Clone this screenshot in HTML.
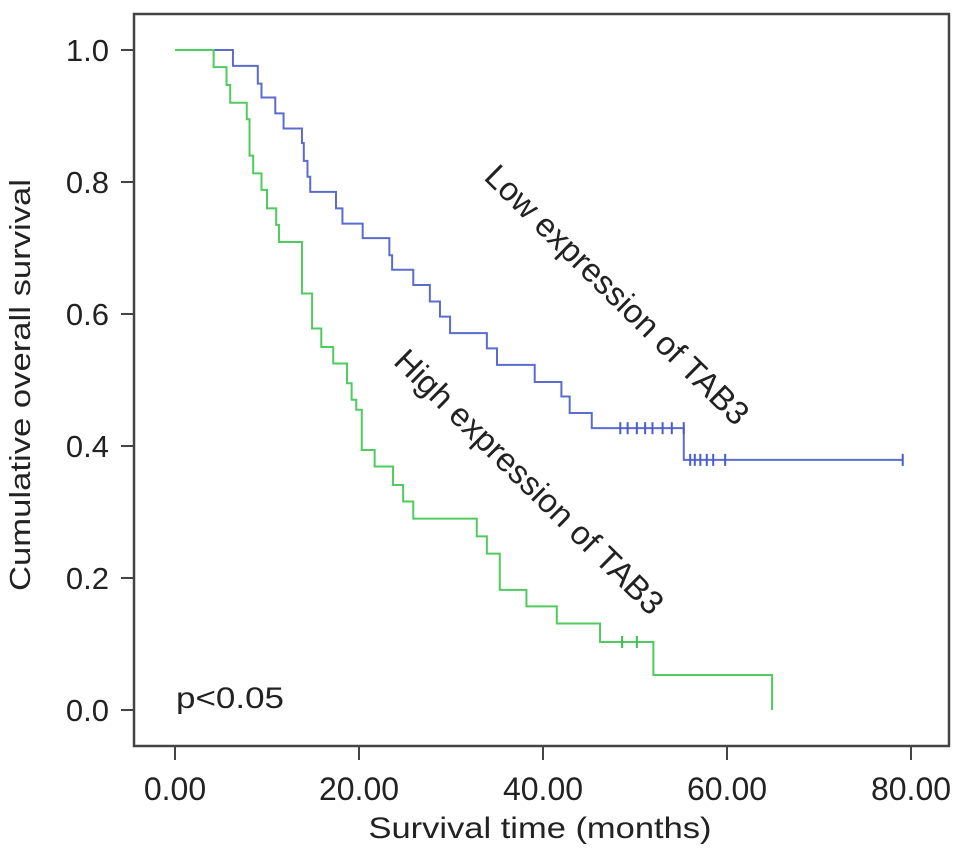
<!DOCTYPE html>
<html><head><meta charset="utf-8"><style>
body{margin:0;background:#fff;}
svg text{font-family:"Liberation Sans",sans-serif;fill:#222;}
</style></head><body>
<svg id="chart" width="969" height="857" viewBox="0 0 969 857">
<rect x="134" y="14" width="815" height="732" fill="none" stroke="#444" stroke-width="2.5"/>
<g id="yaxis"></g>
<g id="xaxis"></g>
<g id="series"></g>
<text x="30" y="385" font-size="29" text-anchor="middle" transform="rotate(-90 30 385)" textLength="412" lengthAdjust="spacingAndGlyphs">Cumulative overall survival</text>
<text x="540" y="838" font-size="30" text-anchor="middle" textLength="343" lengthAdjust="spacingAndGlyphs">Survival time (months)</text>
<text x="176" y="708" font-size="30" textLength="108" lengthAdjust="spacingAndGlyphs">p&lt;0.05</text>
<text x="617" y="306" font-size="33" text-anchor="middle" transform="rotate(44.5 617 295)">Low expression of TAB3</text>
<text x="529" y="493" font-size="33" text-anchor="middle" transform="rotate(44.5 529 482)">High expression of TAB3</text>
</svg>
<script>
const yTicks=[0,0.2,0.4,0.6,0.8,1.0];
const yTickLabels=["0.0","0.2","0.4","0.6","0.8","1.0"];
const xTicks=[0,20,40,60,80];
const xTickLabels=["0.00","20.00","40.00","60.00","80.00"];
// Low expression (blue): step times and survival after step
const lowTimes=[0,6.3,9.0,9.4,10.9,11.8,13.8,14.0,14.4,14.7,17.5,18.2,20.4,23.3,23.6,25.9,27.7,28.8,29.9,33.9,35.0,39.1,42.0,42.9,45.3,55.3,79.1];
const lowSurv=[1.0,0.976,0.949,0.928,0.904,0.881,0.859,0.832,0.808,0.785,0.760,0.737,0.715,0.689,0.667,0.644,0.619,0.596,0.571,0.548,0.523,0.497,0.475,0.450,0.427,0.379,0.379];
const lowCensor=[48.4,49.2,50.2,51.1,51.9,53.0,54.0,55.3,56.0,56.5,57.1,57.8,58.5,59.8,79.1];
const lowCensorSurv=[0.427,0.427,0.427,0.427,0.427,0.427,0.427,0.427,0.379,0.379,0.379,0.379,0.379,0.379,0.379];
// High expression (green)
const highTimes=[0,4.2,5.6,6.0,7.8,8.1,8.5,9.4,10.0,11.0,11.3,13.8,14.9,15.9,17.2,18.7,19.2,19.7,20.3,21.7,23.7,24.8,25.9,32.8,33.9,35.3,38.2,41.5,46.2,52.0,64.9];
const highSurv=[1.0,0.974,0.947,0.920,0.895,0.840,0.813,0.788,0.760,0.735,0.709,0.631,0.578,0.550,0.525,0.495,0.470,0.455,0.394,0.369,0.341,0.316,0.290,0.263,0.237,0.182,0.157,0.131,0.103,0.053,0.0];
const highCensor=[48.6,50.2];
const highCensorSurv=[0.103,0.103];

const NS="http://www.w3.org/2000/svg";
const X=t=>175+t*9.2;
const Y=s=>710-s*660;
function mk(tag,attrs,parent){const e=document.createElementNS(NS,tag);for(const k in attrs)e.setAttribute(k,attrs[k]);parent.appendChild(e);return e;}
const ya=document.getElementById('yaxis'),xa=document.getElementById('xaxis'),sg=document.getElementById('series');
yTicks.forEach((v,i)=>{
  const l=mk('line',{x1:121,x2:134,y1:Y(v),y2:Y(v),stroke:'#444','stroke-width':2},ya);
  
  
  const t=mk('text',{x:109,y:Y(v)+11,'font-size':31,'text-anchor':'end'},ya);
  t.textContent=yTickLabels[i];
  
  
});
xTicks.forEach((v,i)=>{
  const l=mk('line',{x1:X(v),x2:X(v),y1:746,y2:760,stroke:'#444','stroke-width':2},xa);
  
  
  const t=mk('text',{x:X(v),y:800,'font-size':32,'text-anchor':'middle'},xa);
  t.textContent=xTickLabels[i];
  
  
});
function stepPath(ts,ss){let d='M'+X(ts[0])+','+Y(ss[0]);for(let i=1;i<ts.length;i++){d+=' H'+X(ts[i])+' V'+Y(ss[i]);}return d;}
const lp=mk('path',{d:stepPath(lowTimes,lowSurv),fill:'none',stroke:'#5b6ccf','stroke-width':2},sg);


const hp=mk('path',{d:stepPath(highTimes,highSurv),fill:'none',stroke:'#4fcb5f','stroke-width':2},sg);


function censor(ts,ss,col){ts.forEach((t,i)=>{const c=mk('line',{x1:X(t),x2:X(t),y1:Y(ss[i])-6,y2:Y(ss[i])+6,stroke:col,'stroke-width':2},sg);
  
  });}
censor(lowCensor,lowCensorSurv,'#4a5cc8');
censor(highCensor,highCensorSurv,'#3fbf50');
</script>
</body></html>
